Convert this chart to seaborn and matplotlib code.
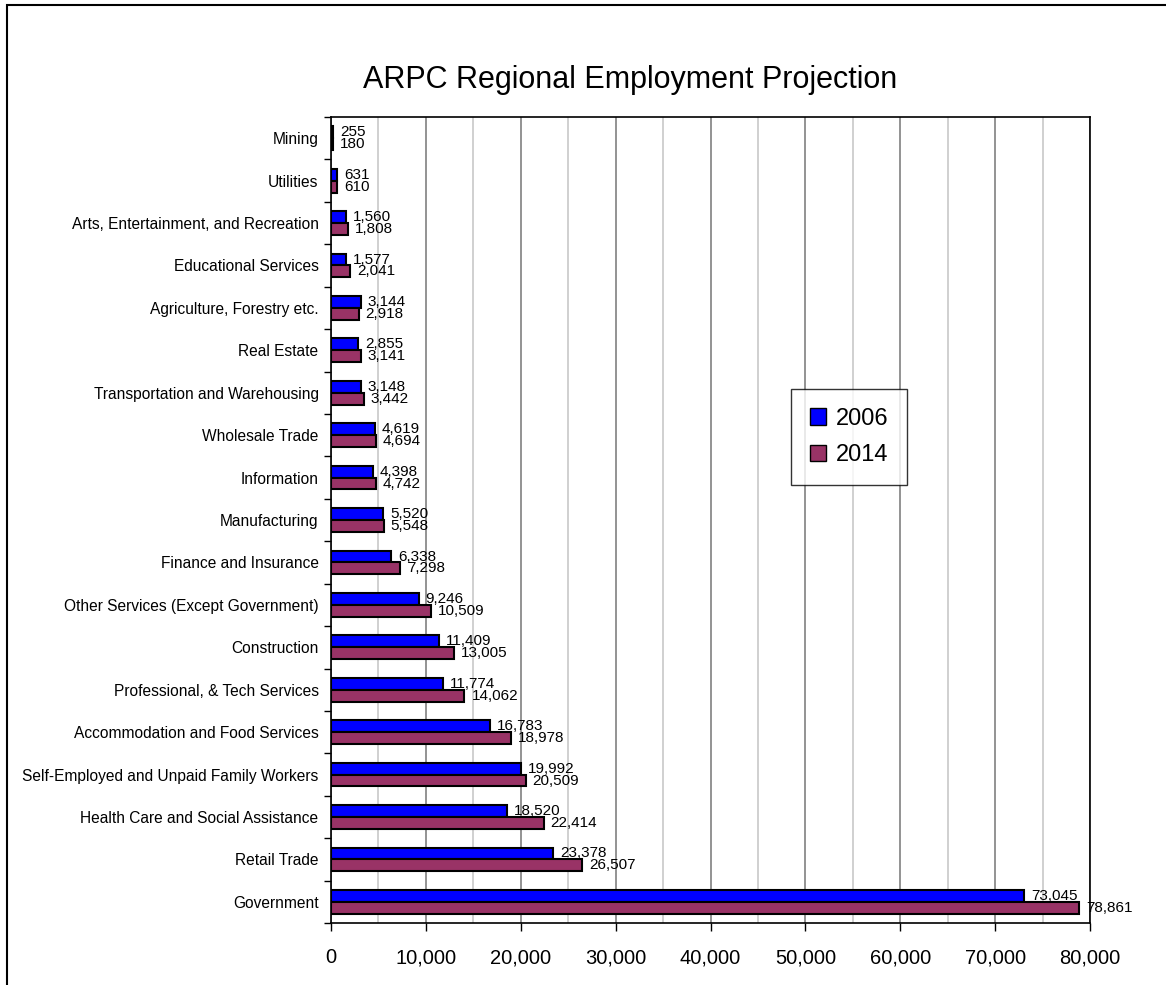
import matplotlib

matplotlib.use("Agg")
import matplotlib.pyplot as plt
import pandas as pd
import seaborn as sns
from matplotlib.patches import Rectangle
from matplotlib.ticker import FuncFormatter, MultipleLocator

# ------------------------------------------------------------------
# Data
industries = [
    "Mining",
    "Utilities",
    "Arts, Entertainment, and Recreation",
    "Educational Services",
    "Agriculture, Forestry etc.",
    "Real Estate",
    "Transportation and Warehousing",
    "Wholesale Trade",
    "Information",
    "Manufacturing",
    "Finance and Insurance",
    "Other Services (Except Government)",
    "Construction",
    "Professional, & Tech Services",
    "Accommodation and Food Services",
    "Self-Employed and Unpaid Family Workers",
    "Health Care and Social Assistance",
    "Retail Trade",
    "Government",
]
emp_2006 = [255, 631, 1560, 1577, 3144, 2855, 3148, 4619, 4398, 5520,
            6338, 9246, 11409, 11774, 16783, 19992, 18520, 23378, 73045]
emp_2014 = [180, 610, 1808, 2041, 2918, 3141, 3442, 4694, 4742, 5548,
            7298, 10509, 13005, 14062, 18978, 20509, 22414, 26507, 78861]
years = ["2006", "2014"]
colors = ["#0000FF", "#993366"]

df = pd.concat(
    [
        pd.DataFrame({"Industry": industries, "Employment": emp_2006, "Year": years[0]}),
        pd.DataFrame({"Industry": industries, "Employment": emp_2014, "Year": years[1]}),
    ],
    ignore_index=True,
)

# ------------------------------------------------------------------
sns.set_style("white")
plt.rcParams["font.family"] = ["Liberation Sans", "DejaVu Sans"]
plt.rcParams["text.color"] = "black"
plt.rcParams["xtick.color"] = "black"
plt.rcParams["ytick.color"] = "black"
plt.rcParams["axes.labelcolor"] = "black"

fig = plt.figure(figsize=(11.66, 9.85), dpi=100)
ax = fig.add_axes([0.2839, 0.0629, 0.6509, 0.8183])

sns.barplot(
    data=df,
    x="Employment",
    y="Industry",
    hue="Year",
    order=industries,
    hue_order=years,
    palette=colors,
    orient="h",
    width=0.56,
    gap=0,
    edgecolor="black",
    linewidth=1.5,
    saturation=1,
    ax=ax,
)

# value labels
for container in ax.containers:
    ax.bar_label(container, labels=[f"{v:,.0f}" for v in container.datavalues],
                 padding=5, fontsize=11, color="black")

ax.set_xlim(0, 80000)
ax.set_xlabel("")
ax.set_ylabel("")

# x axis: major grid every 10k, minor every 5k
ax.xaxis.set_major_locator(MultipleLocator(10000))
ax.xaxis.set_minor_locator(MultipleLocator(5000))
ax.xaxis.set_major_formatter(FuncFormatter(lambda v, _: f"{v:,.0f}"))
ax.grid(axis="x", which="major", color="#808080", linewidth=1.2)
ax.grid(axis="x", which="minor", color="#c8c8c8", linewidth=1.2)
ax.set_axisbelow(True)
ax.tick_params(axis="x", which="major", length=6, width=1, color="black",
               direction="out", pad=12, labelsize=14.5, bottom=True)
ax.tick_params(axis="x", which="minor", length=0)

# y axis: ticks between categories
n = len(industries)
ax.set_yticks([i + 0.5 for i in range(-1, n)], minor=True)
ax.tick_params(axis="y", which="major", length=0, pad=9, labelsize=11.2)
ax.tick_params(axis="y", which="minor", length=5, width=1, color="black",
               direction="out", left=True)

for side in ["left", "right", "top", "bottom"]:
    ax.spines[side].set_visible(True)
    ax.spines[side].set_color("black")
    ax.spines[side].set_linewidth(1.2)

# legend
handles, labels = ax.get_legend_handles_labels()
leg = ax.legend(
    handles,
    labels,
    loc="upper left",
    bbox_to_anchor=(0.606, 0.6625),
    fontsize=17,
    frameon=True,
    fancybox=False,
    edgecolor="black",
    handlelength=0.7,
    handleheight=0.7,
    handletextpad=0.4,
    labelspacing=0.6,
    borderpad=0.8,
    borderaxespad=0,
)
leg.get_frame().set_linewidth(1.0)
for h in leg.legend_handles:
    h.set_edgecolor("black")
    h.set_linewidth(1.0)

fig.text(0.54, 0.919, "ARPC Regional Employment Projection",
         ha="center", va="center", fontsize=22)

# outer chart frame (right and bottom edges fall outside the image)
fig.add_artist(Rectangle((0.006, -0.1), 1.2, 0.9949 + 0.1,
                         transform=fig.transFigure, fill=False,
                         edgecolor="black", linewidth=1.5))

fig.savefig("out.png", dpi=100)
